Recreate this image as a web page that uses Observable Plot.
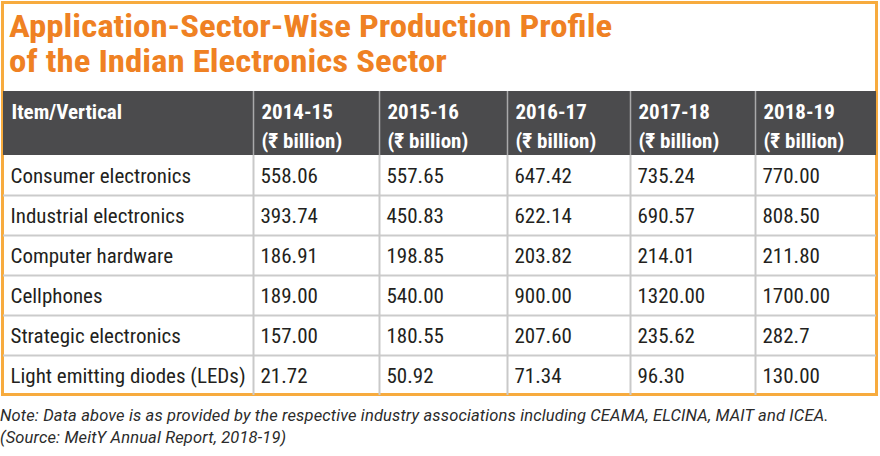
<!DOCTYPE html>
<html>
<head>
<meta charset="utf-8">
<script src="https://cdn.jsdelivr.net/npm/d3@7"></script>
<script src="https://cdn.jsdelivr.net/npm/@observablehq/plot@0.6"></script>
<style>
  html, body { margin: 0; padding: 0; background: #fff; }
  #wrap { position: relative; width: 880px; height: 456px; overflow: hidden; background: #fff; }
  #frame { position: absolute; left: 1px; top: 1px; width: 871px; height: 389px; border: 3px solid #f7ab3e; }
  #title { position: absolute; left: 9px; top: 10px; margin: 0; font-family: "Roboto Condensed", "Roboto", sans-serif; font-weight: bold; font-size: 31px; line-height: 34.5px; color: #ef8123; white-space: nowrap; transform: scaleX(1.125); transform-origin: 0 0; }
  #note { position: absolute; left: 0px; top: 405px; margin: 0; font-family: "Roboto", sans-serif; font-style: italic; font-size: 16.5px; letter-spacing: 0.15px; line-height: 22px; color: #2b2b2b; white-space: nowrap; }
  #chart { position: absolute; left: 0; top: 0; }
</style>
</head>
<body>
<div id="wrap">
  <div id="frame"></div>
  <div id="title"></div>
  <div id="chart"></div>
  <div id="note"></div>
</div>
<script>
const titleLines = ["Application-Sector-Wise Production Profile", "of the Indian Electronics Sector"];
const noteLines = ["Note: Data above is as provided by the respective industry associations including CEAMA, ELCINA, MAIT and ICEA.", "(Source: MeitY Annual Report, 2018-19)"];

const firstHeader = "Item/Vertical";
const years = ["2014-15", "2015-16", "2016-17", "2017-18", "2018-19"];
const unitLabel = "(₹ billion)";
const items = ["Consumer electronics", "Industrial electronics", "Computer hardware", "Cellphones", "Strategic electronics", "Light emitting diodes (LEDs)"];
const y2014_15 = ["558.06", "393.74", "186.91", "189.00", "157.00", "21.72"];
const y2015_16 = ["557.65", "450.83", "198.85", "540.00", "180.55", "50.92"];
const y2016_17 = ["647.42", "622.14", "203.82", "900.00", "207.60", "71.34"];
const y2017_18 = ["735.24", "690.57", "214.01", "1320.00", "235.62", "96.30"];
const y2018_19 = ["770.00", "808.50", "211.80", "1700.00", "282.7", "130.00"];
const series = [y2014_15, y2015_16, y2016_17, y2017_18, y2018_19];

document.getElementById("title").innerHTML = titleLines.join("<br>");
document.getElementById("note").innerHTML = noteLines.join("<br>");

// column layout in "column units": first column spans 0..2, others 1 unit each
const colStart = c => (c === 0 ? 0 : c + 1);
const HEADER = 1.6; // header height in row units
const rowStart = r => HEADER + r;

const headerCells = [{c: 0, text: firstHeader}].concat(years.map((y, i) => ({c: i + 1, text: y + "\n" + unitLabel})));
const bodyCells = [];
items.forEach((it, r) => {
  bodyCells.push({c: 0, r, text: it});
  series.forEach((s, i) => bodyCells.push({c: i + 1, r, text: s[r]}));
});
const colLines = d3.range(1, years.length + 1);
const rowLines = d3.range(1, items.length).map(r => rowStart(r));

const FONT = '"Roboto Condensed", "Roboto", sans-serif';

const chart = Plot.plot({
  width: 880,
  height: 456,
  margin: 0,
  x: {type: "linear", domain: [0, 2, 3, 4, 5, 6, 7], range: [3, 253, 379, 507, 630, 755, 876], axis: null},
  y: {type: "linear", domain: [0, HEADER + items.length], range: [91, 395], axis: null},
  style: {fontFamily: FONT, background: "transparent", overflow: "visible"},
  marks: [
    Plot.rect([0], {x1: () => 0, x2: () => 7, y1: () => 0, y2: () => HEADER, fill: "#4b4b4d"}),
    Plot.ruleY(rowLines, {x1: 0, x2: 7, y: d => d, stroke: "#cbcbcb", strokeWidth: 2}),
    Plot.ruleX(colLines, {x: d => colStart(d), y1: HEADER, y2: HEADER + items.length, stroke: "#c9c9c9", strokeWidth: 2}),
    Plot.ruleX(colLines, {x: d => colStart(d), y1: 0, y2: HEADER, stroke: "#a9a9aa", strokeWidth: 1.5}),
    Plot.text(headerCells, {x: d => colStart(d.c), y: () => 0, text: "text", textAnchor: "start", lineAnchor: "top", dx: 8, dy: 7, lineHeight: 1.38, fontSize: 21, fontWeight: "bold", fill: "#ffffff"}),
    Plot.text(bodyCells, {x: d => colStart(d.c), y: d => rowStart(d.r) + 0.5, text: "text", textAnchor: "start", lineAnchor: "middle", dx: 7, dy: 1, fontSize: 21, fill: "#231f20"})
  ]
});
document.getElementById("chart").appendChild(chart);
</script>
</body>
</html>
